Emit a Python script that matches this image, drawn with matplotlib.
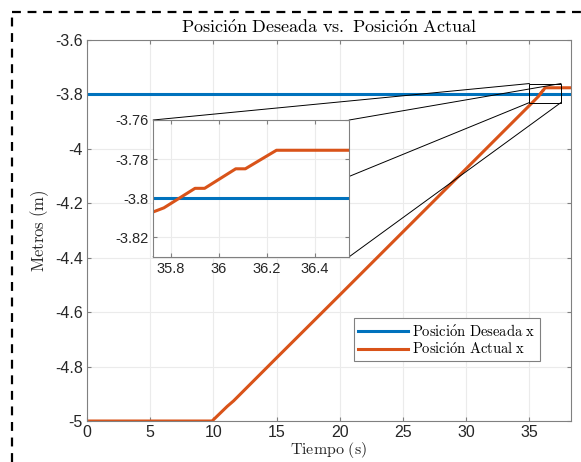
"""Posicion deseada vs. posicion actual, with a zoomed inset near t = 36 s."""
import matplotlib
matplotlib.use("Agg")
import matplotlib.pyplot as plt
from matplotlib.lines import Line2D
from matplotlib.patches import Rectangle

# data
t_des = [0.0, 38.3]
x_des = [-3.8, -3.8]

t_act = [0.0, 9.9, 11.1, 11.6, 15.0, 20.0, 25.0, 30.0, 35.0,
         35.77, 35.90, 35.94, 36.07, 36.11, 36.24, 38.3]
x_act = [-5.0, -5.0, -4.946, -4.926, -4.768, -4.537, -4.305, -4.073, -3.841,
         -3.805, -3.795, -3.795, -3.785, -3.785, -3.7755, -3.7755]

xticks = [0, 5, 10, 15, 20, 25, 30, 35]
yticks = [-5, -4.8, -4.6, -4.4, -4.2, -4, -3.8, -3.6]
in_xticks = [35.8, 36.0, 36.2, 36.4]
in_yticks = [-3.82, -3.8, -3.78, -3.76]

BLUE = "#0072BD"
ORANGE = "#D95319"
SANS = "Liberation Sans"

# zoom box in main axes and the inset window
box = (35.0, 37.5, -3.83, -3.76)
in_xlim = (35.726, 36.544)
in_ylim = (-3.83, -3.76)

plt.rcParams["mathtext.fontset"] = "cm"


def tex(s):
    # latex-looking text through mathtext
    s = s.replace("ó", r"\acute{o}").replace(" ", r"\ ")
    return r"$\mathrm{" + s + "}$"


fig = plt.figure(figsize=(5.81, 4.62), dpi=100)
ax = fig.add_axes([0.1497, 0.0887, 0.8331, 0.8247])
ax.set_zorder(2)

ax.plot(t_des, x_des, color=BLUE, lw=2.2, label=tex("Posición Deseada x"))
ax.plot(t_act, x_act, color=ORANGE, lw=2.2, label=tex("Posición Actual x"))
ax.set_xlim(0, 38.3)
ax.set_ylim(-5, -3.6)
ax.set_xticks(xticks)
ax.set_xticklabels([str(v) for v in xticks])
ax.set_yticks(yticks)
ax.set_yticklabels([f"{v:g}" for v in yticks])
ax.grid(True, color="#ebebeb", lw=0.8)
ax.set_axisbelow(True)
for s in ax.spines.values():
    s.set_color("#808080")
    s.set_linewidth(0.8)
ax.tick_params(direction="in", length=3, color="#808080", labelsize=11.5,
               top=True, right=True, labelcolor="#262626", pad=3)
for lab in ax.get_xticklabels() + ax.get_yticklabels():
    lab.set_fontfamily(SANS)

ax.set_title(tex("Posición Deseada vs. Posición Actual"), fontsize=13, pad=5)
ax.set_xlabel(tex("Tiempo (s)"), fontsize=11.5, labelpad=0, color="#262626")
ax.set_ylabel(tex("Metros (m)"), fontsize=12, labelpad=3, color="#262626")

leg = ax.legend(loc="lower right", bbox_to_anchor=(0.936, 0.157),
                borderaxespad=0, prop={"size": 10.5}, fancybox=False,
                edgecolor="#808080", framealpha=1, handlelength=3.4,
                borderpad=0.3, labelspacing=0.15, handletextpad=0.3)
leg.get_frame().set_linewidth(0.8)

# zoom rectangle on the main axes
bx0, bx1, by0, by1 = box
ax.add_patch(Rectangle((bx0, by0), bx1 - bx0, by1 - by0, fill=False,
                       ec="black", lw=0.7, zorder=5))

# inset
ins_rect = [0.2639, 0.4444, 0.3373, 0.2959]
ins = fig.add_axes(ins_rect)
ins.set_zorder(3)
ins.plot(t_des, x_des, color=BLUE, lw=2.2)
ins.plot(t_act, x_act, color=ORANGE, lw=2.2)
ins.set_xlim(*in_xlim)
ins.set_ylim(*in_ylim)
ins.set_xticks(in_xticks)
ins.set_xticklabels([f"{v:g}" for v in in_xticks])
ins.set_yticks(in_yticks)
ins.set_yticklabels([f"{v:g}" for v in in_yticks])
ins.grid(True, color="#ebebeb", lw=0.8)
ins.set_axisbelow(True)
for s in ins.spines.values():
    s.set_color("#808080")
    s.set_linewidth(0.8)
ins.tick_params(direction="in", length=3, color="#808080", labelsize=10.5,
                top=True, right=True, labelcolor="#262626")
for lab in ins.get_xticklabels() + ins.get_yticklabels():
    lab.set_fontfamily(SANS)

# connector lines from box corners to inset corners (inset drawn over them)
fig.canvas.draw()
to_fig = fig.transFigure.inverted()
il, ib, iw, ih = ins_rect
pairs = [((bx0, by1), (il, ib + ih)), ((bx1, by1), (il + iw, ib + ih)),
         ((bx0, by0), (il, ib)), ((bx1, by0), (il + iw, ib))]
for (dx, dy), (fx, fy) in pairs:
    px, py = to_fig.transform(ax.transData.transform((dx, dy)))
    ax.add_line(Line2D([px, fx], [py, fy], color="black", lw=0.7,
                       transform=fig.transFigure, clip_on=False, zorder=4))

# dashed frame around the figure
fig.add_artist(Line2D([0.021, 0.021], [0.0, 0.974], color="black", lw=1.6,
                      ls=(0, (4, 3))))
fig.add_artist(Line2D([0.021, 1.0], [0.974, 0.974], color="black", lw=1.6,
                      ls=(0, (4, 3))))

fig.savefig("out.png", dpi=100)
